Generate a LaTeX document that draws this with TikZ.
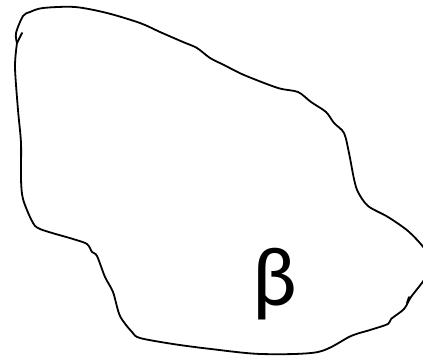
\documentclass[tikz,border=0pt]{standalone}
\usepackage{fontspec}
\setmainfont{Carlito}
\usepackage{tikz}
\definecolor{inkblack}{HTML}{000000}

\begin{document}
\begin{tikzpicture}[x=1pt,y=-1pt,
        outline/.style={draw=inkblack,line width=1.8pt,line join=round,line cap=round}]
        \useasboundingbox (0,0) rectangle (423,359);
        \draw[outline] plot[smooth,tension=0.5] coordinates {
              (17,43) (16,33) (23,16) (30,12) (43,8) (75,7) (107,13) (140,23)
              (160,32) (183,42) (197,48) (210,58) (224,65) (244,75) (278,88)
              (298,92) (311,102) (326,112) (334,123) (344,133) (349,153)
              (354,179) (358,192) (368,206) (388,217) (408,231) (424,248)
              (432,264) (424,280) (411,297) (404,309) (391,319) (388,324)
              (370,330) (351,336) (318,352) (261,354) (211,349) (173,344)
              (140,338) (132,332) (120,316) (113,292) (105,277) (97,256)
              (92,252) (87,244) (73,239) (40,229) (32,221) (23,199) (21,179)
              (21,143) (18,110) (15,67) (17,43)};
        \draw[outline] (17,43) -- (22,33);
        \draw[outline] (407,303) -- (409,297);
        \node[font=\fontsize{84}{100}\selectfont] (beta) at (275,284) {β};
      \end{tikzpicture}
\end{document}
